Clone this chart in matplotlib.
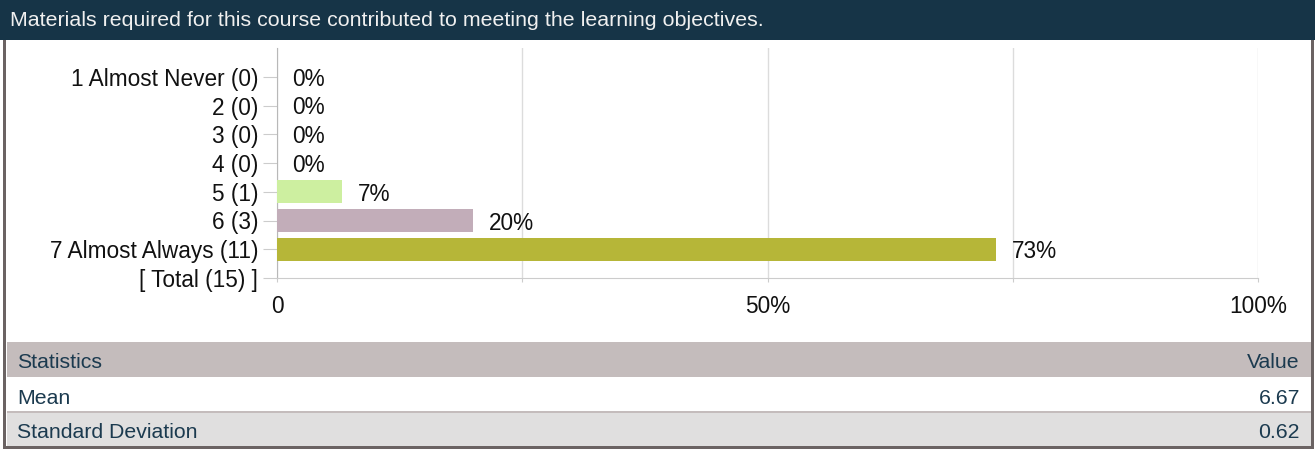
import matplotlib.pyplot as plt
from matplotlib.patches import Rectangle

# data
title = 'Materials required for this course contributed to meeting the learning objectives.'
categories = ['1 Almost Never (0)', '2 (0)', '3 (0)', '4 (0)', '5 (1)', '6 (3)',
              '7 Almost Always (11)', '[ Total (15) ]']
counts = [0, 0, 0, 0, 1, 3, 11]
total = 15
bar_colors = ['#cdefa0', '#cdefa0', '#cdefa0', '#cdefa0', '#cdefa0', '#c2adb9', '#b6b638']
x_ticks = [0, 25, 50, 75, 100]
x_tick_labels = ['0', '', '50%', '', '100%']
stat_names = ['Mean', 'Standard Deviation']
stat_values = ['6.67', '0.62']

plt.rcParams['font.family'] = ['Liberation Sans', 'DejaVu Sans']

W, H = 1315, 449
fig = plt.figure(figsize=(W / 100, H / 100), dpi=100)
fig.patch.set_facecolor('white')

def px_rect(x0, y0, x1, y1, color, z=0):
    # rectangle given in pixel coords from top-left
    fig.patches.append(Rectangle((x0 / W, 1 - y1 / H), (x1 - x0) / W, (y1 - y0) / H,
                                 transform=fig.transFigure, facecolor=color,
                                 edgecolor='none', zorder=z))

def px_text(x, y, s, **kw):
    fig.text(x / W, 1 - y / H, s, **kw)

# frame and title bar
px_rect(0, 0, W, 40, '#163447')
px_rect(3, 40, 6, H, '#6b6363')
px_rect(1311, 40, 1314, H, '#6b6363')
px_rect(3, 446, 1314, H, '#6b6363')
px_text(10, 21, title, color='#f0f0f0', fontsize=15.4, va='center', ha='left')

# stats table
navy = '#1b3a4f'
fs_tab = 15.3
px_rect(7, 342, 1311, 377, '#c4bcbc')
px_rect(7, 411, 1311, 413, '#c4bcbc')
px_rect(7, 413, 1311, 446, '#e0dfdf')
px_text(17, 360, 'Statistics', color=navy, fontsize=fs_tab, va='center_baseline')
px_text(1300, 360, 'Value', color=navy, fontsize=fs_tab, va='center_baseline', ha='right')
rows_y = [396, 431]
for name, val, yy in zip(stat_names, stat_values, rows_y):
    px_text(17, yy, name, color=navy, fontsize=fs_tab, va='center_baseline')
    px_text(1300, yy, val, color=navy, fontsize=fs_tab, va='center_baseline', ha='right')

# bar chart
fs = 16.3
ax = fig.add_axes([277 / W, 1 - 278 / H, (1258 - 277) / W, (278 - 48) / H])
pcts = [c / total * 100 for c in counts]
ypos = list(range(len(counts)))
ax.barh(ypos, pcts, height=0.8, color=bar_colors[:len(counts)], zorder=3)
for y, p in zip(ypos, pcts):
    ax.annotate(f'{p:.0f}%', (p, y), xytext=(11, 0), textcoords='offset points',
                va='center_baseline', ha='left', fontsize=fs, color='#111111')

ax.set_xlim(0, 100)
ax.set_ylim(7, -1)
ax.set_yticks(range(len(categories)))
ax.set_yticklabels(categories, fontsize=fs, color='#111111')
ax.set_xticks(x_ticks)
ax.set_xticklabels(x_tick_labels, fontsize=fs, color='#111111')
ax.tick_params(axis='y', length=10, color='#cccccc', pad=3.5)
ax.tick_params(axis='x', length=3, color='#cccccc', pad=9)
ax.grid(axis='x', color='#dcdcdc', linewidth=1, zorder=0)
for side in ['top', 'right']:
    ax.spines[side].set_visible(False)
ax.spines['left'].set_color('#b8b8b8')
ax.spines['bottom'].set_color('#cccccc')

fig.savefig('out.png', dpi=100)
